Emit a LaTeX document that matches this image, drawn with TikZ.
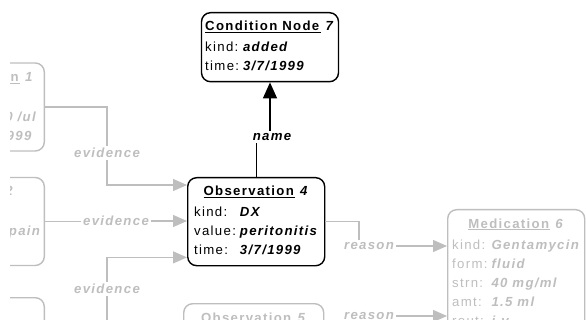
\documentclass[tikz,border=0pt]{standalone}
\usepackage{fontspec}
\setmainfont[LetterSpace=10]{Liberation Sans}
\usetikzlibrary{arrows.meta}
\definecolor{faded}{RGB}{190,190,190}
\newcommand{\val}[1]{\textbf{\textit{#1}}}
\newcommand{\hdr}[2]{\multicolumn{2}{@{}c@{}}{\underline{\textbf{#1}} \val{#2}}\\[2pt]}
\begin{document}
\begin{tikzpicture}[x=1pt,y=-1pt,
  box/.style={draw, rounded corners=9pt, line width=1.4pt, inner xsep=3pt, inner ysep=5pt, minimum width=137pt, font=\fontsize{13.2}{19}\selectfont},
  fbox/.style={box, draw=faded, text=faded},
  lbl/.style={font=\fontsize{13.2}{15}\selectfont\bfseries\itshape, inner sep=2pt},
  flbl/.style={lbl, text=faded},
  fline/.style={draw=faded, line width=1.3pt},
  farrow/.style={fline, -{Triangle[width=12pt,length=14pt]}},
  barrow/.style={line width=1.3pt, -{Triangle[width=14pt,length=16pt]}}]
\useasboundingbox (0,0) rectangle (586,323);
\clip (10,0) rectangle (586,319);
% record nodes
\node[box, anchor=north] (cond7) at (270,12) {\begin{tabular}{@{}l@{\hspace{4pt}}l@{}}\hdr{Condition Node}{7}
kind: & \val{added}\\ time: & \val{3/7/1999}\end{tabular}};
\node[box, anchor=north west] (obs4) at (187,177) {\begin{tabular}{@{}l@{\hspace{4pt}}l@{}}\hdr{Observation}{4}
kind: & \val{DX}\\ value: & \val{peritonitis}\\ time: & \val{3/7/1999}\end{tabular}};
\node[fbox, anchor=north west] (med6) at (447,209) {\begin{tabular}{@{}l@{\hspace{4pt}}l@{}}\hdr{Medication}{6}
kind: & \val{Gentamycin}\\ form: & \val{fluid}\\ strn: & \val{40 mg/ml}\\ amt: & \val{1.5 ml}\\ rout: & \val{i.v.}\end{tabular}};
\node[fbox, anchor=north west, minimum width=140pt, minimum height=89pt] (obs5) at (183,303) {\begin{tabular}{@{}l@{\hspace{4pt}}l@{}}\hdr{Observation}{5}
kind: & \\ value: & \\ time: & \end{tabular}};
\node[fbox, anchor=east, minimum width=0pt, inner xsep=7pt] (obs1) at (45,107) {\begin{tabular}{@{}l@{\hspace{4pt}}l@{}}\hdr{Observation}{1}
kind: & \\ value: & \val{15000 /ul}\\ time: & \val{3/7/1999}\end{tabular}};
\node[fbox, anchor=east] (obs2) at (45,221.5) {\begin{tabular}{@{}l@{\hspace{4pt}}l@{}}\hdr{Observation}{2}
kind: & \\ value: & \val{abdominal pain}\\ time: & \end{tabular}};
\node[fbox, anchor=north east, minimum width=180pt] (obs3) at (45,297) {\begin{tabular}{@{}l@{\hspace{4pt}}l@{}}\hdr{Observation}{3}
kind: & \\ value: & \\ time: & \end{tabular}};
% link labels
\node[lbl] (nm) at (272,137) {name};
\node[flbl] (ev1) at (107,153) {evidence};
\node[flbl] (ev2) at (116,221) {evidence};
\node[flbl] (ev3) at (107,289) {evidence};
\node[flbl] (rs1) at (369,246) {reason};
\node[flbl] (rs2) at (369,316) {reason};
% links
\draw[line width=1.3pt] (obs4.north) -- (obs4.north |- nm.south);
\draw[barrow] (nm.north -| cond7.south) -- (cond7.south);
\draw[fline] (obs1.east) -| (ev1.north);
\draw[farrow] (ev1.south) |- ([yshift=-8pt]obs4.north west);
\draw[fline] (obs2.east) -- (obs2.east -| ev2.west);
\draw[farrow] (ev2.east) -- (ev2.east -| obs4.west);
\draw[fline] (obs3.east) -| (ev3.south);
\draw[farrow] (ev3.north) |- ([yshift=9pt]obs4.south west);
\draw[fline] (obs4.east) -| ([xshift=-10pt]rs1.north);
\draw[farrow] (rs1.east) -- (rs1.east -| med6.west);
\draw[fline] (obs5.east) -| ([xshift=-10pt]rs2.south);
\draw[farrow] (rs2.east) -- (rs2.east -| med6.west);
\end{tikzpicture}
\end{document}
